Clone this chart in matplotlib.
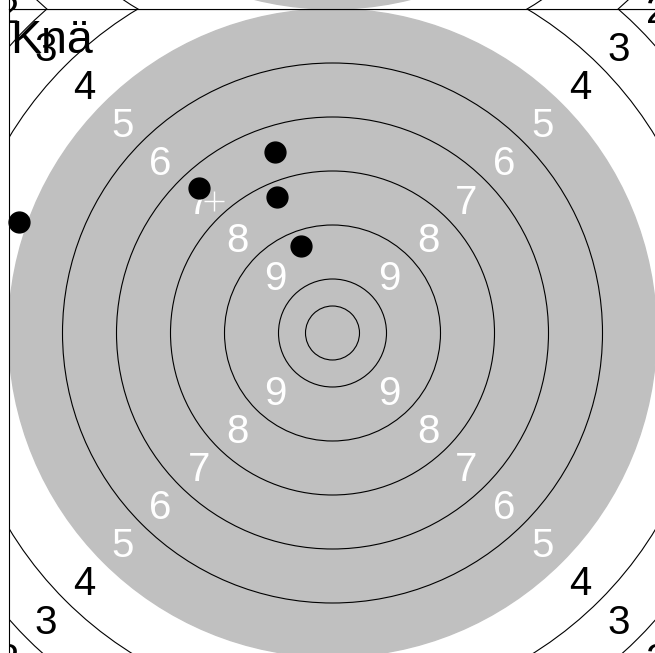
import matplotlib
matplotlib.use("Agg")
import matplotlib.pyplot as plt
from matplotlib.patches import Circle
import numpy as np

plt.rcParams['font.family'] = ['Liberation Sans', 'DejaVu Sans']

# target geometry in ring widths (ring 10 has radius 1, inner ten 0.5)
ring_values = [10, 9, 8, 7, 6, 5, 4, 3, 2, 1]
ring_radii = [1, 2, 3, 4, 5, 6, 7, 8, 9, 10]
inner_ten = 0.5
black_radius = 6          # grey aiming area reaches the 5 ring
label_values = [9, 8, 7, 6, 5, 4, 3, 2]

# shots
shot_x = [-1.07, -2.47, -1.02, -0.58, -5.80]
shot_y = [3.36, 2.69, 2.52, 1.61, 2.06]

title = "Knä"


def draw_target(ax):
    ax.add_patch(Circle((0, 0), black_radius, color='#c0c0c0', zorder=1))
    for r in [inner_ten] + ring_radii:
        if r == black_radius:
            continue
        ax.add_patch(Circle((0, 0), r, fill=False, ec='black', lw=0.8, zorder=2))
    for v in label_values:
        r = 10.5 - v
        d = r / np.sqrt(2)
        col = 'white' if r < black_radius else 'black'
        for sx, sy in [(-1, 1), (1, 1), (-1, -1), (1, -1)]:
            # small downward nudge so the digit itself sits on the diagonal
            ax.text(sx * d, sy * d - 0.06, str(v), color=col, fontsize=29,
                    ha='center', va='center', zorder=3, clip_on=True)
    ax.set_xlim(-6, 6)
    ax.set_ylim(-6, 6)
    ax.set_xticks([])
    ax.set_yticks([])


fig = plt.figure(figsize=(6.55, 6.53), dpi=100)
W, H = 655, 653
ax = fig.add_axes([8.5 / W, (H - 657) / H, 648 / W, 648 / H])
ax_up = fig.add_axes([8.5 / W, (H - 9) / H, 648 / W, 648 / H])

draw_target(ax_up)
draw_target(ax)

ax.plot(shot_x, shot_y, 'o', color='black', ms=15, zorder=4, clip_on=False)
ax.plot(np.mean(shot_x), np.mean(shot_y), '+', color='white', ms=14,
        mew=1, zorder=5)
ax.text(0.003, 0.985, title, transform=ax.transAxes, ha='left', va='top',
        fontsize=33.5, zorder=6)

fig.savefig("out.png", dpi=100)
